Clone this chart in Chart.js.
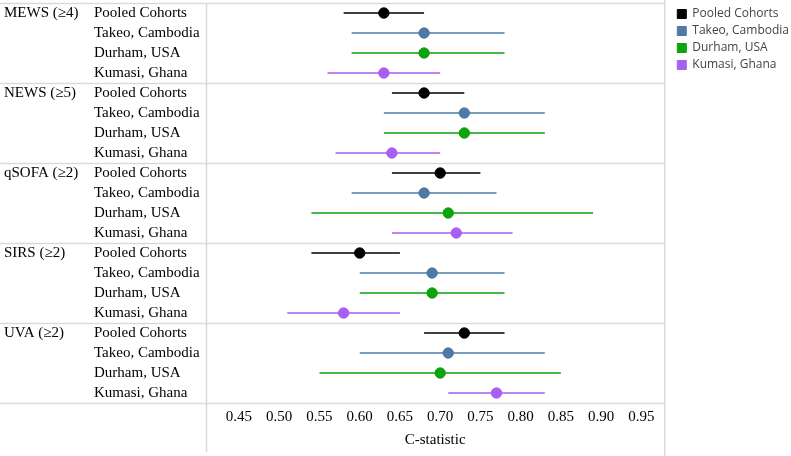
<!DOCTYPE html>
<html>
<head>
<meta charset="utf-8">
<script src="https://cdn.jsdelivr.net/npm/chart.js@4/dist/chart.umd.min.js"></script>
<style>
  html, body { margin: 0; padding: 0; background: #fff; }
  #wrap { width: 791px; height: 456px; }
</style>
</head>
<body>
<div id="wrap"><canvas id="forest"></canvas></div>
<script>
// Scores (groups) and cohorts (rows inside each group)
const groups = ['MEWS (\u22654)', 'NEWS (\u22655)', 'qSOFA (\u22652)', 'SIRS (\u22652)', 'UVA (\u22652)'];
const cohorts = ['Pooled Cohorts', 'Takeo, Cambodia', 'Durham, USA', 'Kumasi, Ghana'];
const cohortColours = ['#000000', '#4f7aa6', '#0ca30c', '#a95ff2'];

// C-statistic estimate and 95% CI, one value per group (MEWS, NEWS, qSOFA, SIRS, UVA)
const pooledEst  = [0.63, 0.68, 0.70, 0.60, 0.73];
const pooledLow  = [0.58, 0.64, 0.64, 0.54, 0.68];
const pooledHigh = [0.68, 0.73, 0.75, 0.65, 0.78];

const takeoEst  = [0.68, 0.73, 0.68, 0.69, 0.71];
const takeoLow  = [0.59, 0.63, 0.59, 0.60, 0.60];
const takeoHigh = [0.78, 0.83, 0.77, 0.78, 0.83];

const durhamEst  = [0.68, 0.73, 0.71, 0.69, 0.70];
const durhamLow  = [0.59, 0.63, 0.54, 0.60, 0.55];
const durhamHigh = [0.78, 0.83, 0.89, 0.78, 0.85];

const kumasiEst  = [0.63, 0.64, 0.72, 0.58, 0.77];
const kumasiLow  = [0.56, 0.57, 0.64, 0.51, 0.71];
const kumasiHigh = [0.70, 0.70, 0.79, 0.65, 0.83];

const xTicks = [0.45, 0.50, 0.55, 0.60, 0.65, 0.70, 0.75, 0.80, 0.85, 0.90, 0.95];

const estimates = [pooledEst, takeoEst, durhamEst, kumasiEst];
const lows = [pooledLow, takeoLow, durhamLow, kumasiLow];
const highs = [pooledHigh, takeoHigh, durhamHigh, kumasiHigh];

const rowCount = groups.length * cohorts.length;
const serif = '"Liberation Serif", "Times New Roman", serif';

// Build datasets: one CI line dataset and one point dataset per cohort
let datasets = [];
cohorts.forEach((name, c) => {
    let ciPoints = [];
    let dots = [];
    groups.forEach((g, gi) => {
        const row = gi * cohorts.length + c;
        ciPoints.push({ x: lows[c][gi], y: row });
        ciPoints.push({ x: highs[c][gi], y: row });
        ciPoints.push({ x: null, y: null });
        dots.push({ x: estimates[c][gi], y: row });
    });
    datasets.push({
        type: 'line',
        label: name + ' CI',
        data: ciPoints,
        borderColor: cohortColours[c],
        borderWidth: 1.6,
        pointRadius: 0,
        spanGaps: false,
        order: 2
    });
    datasets.push({
        type: 'scatter',
        label: name,
        data: dots,
        backgroundColor: cohortColours[c],
        borderColor: cohortColours[c],
        pointRadius: 5.2,
        pointHoverRadius: 5.2,
        order: 1
    });
});

// Light grey separators between score groups, plus frame lines
const frameLines = {
    id: 'frameLines',
    afterLayout(chart) {
        // leave a small gap between the plot frame and the legend
        chart.legend.left += 8;
        chart.legend.right += 8;
    },
    beforeDatasetsDraw(chart) {
        const { ctx, chartArea, scales } = chart;
        const y = scales.y;
        ctx.save();
        ctx.strokeStyle = '#dadada';
        ctx.lineWidth = 1.5;
        for (let b = -0.5; b <= rowCount; b += cohorts.length) {
            const py = Math.round(y.getPixelForValue(b)) + 0.5;
            ctx.beginPath();
            ctx.moveTo(0, py);
            ctx.lineTo(chartArea.right, py);
            ctx.stroke();
        }
        ctx.beginPath();
        ctx.moveTo(chartArea.left + 0.5, chartArea.top);
        ctx.lineTo(chartArea.left + 0.5, chart.height - 4);
        ctx.moveTo(chartArea.right + 0.5, 0);
        ctx.lineTo(chartArea.right + 0.5, chart.height);
        ctx.stroke();
        ctx.restore();
    }
};

function rowAxis(weight, width, tickValues, labelFn) {
    return {
        type: 'linear',
        position: 'left',
        reverse: true,
        min: -0.5,
        max: rowCount - 0.5,
        weight: weight,
        grid: { display: false, drawTicks: false },
        border: { display: false },
        afterBuildTicks: (scale) => {
            scale.ticks = tickValues.map(v => ({ value: v }));
        },
        afterFit: (scale) => {
            scale.width = width;
            scale.paddingTop = 0;
            scale.paddingBottom = 0;
        },
        ticks: {
            autoSkip: false,
            crossAlign: 'far',
            padding: 0,
            color: '#000',
            font: { family: serif, size: 15 },
            callback: labelFn
        }
    };
}

const rowTicks = [...Array(rowCount).keys()];
const groupTicks = groups.map((g, i) => i * cohorts.length);

const config = {
    data: { datasets: datasets },
    options: {
        responsive: false,
        animation: false,
        layout: { autoPadding: false, padding: { left: 4, top: 3, bottom: 2, right: 0 } },
        scales: {
            x: {
                type: 'linear',
                min: 0.409,
                max: 0.9785,
                grid: { display: false, drawTicks: false },
                border: { display: false },
                afterBuildTicks: (scale) => {
                    scale.ticks = xTicks.map(v => ({ value: v }));
                },
                ticks: {
                    autoSkip: false,
                    maxRotation: 0,
                    padding: 5,
                    color: '#000',
                    font: { family: serif, size: 15 },
                    callback: (v) => v.toFixed(2)
                },
                title: {
                    display: true,
                    text: 'C-statistic',
                    color: '#000',
                    padding: { top: 0, bottom: 5 },
                    font: { family: serif, size: 15 }
                }
            },
            y: rowAxis(0, 112, rowTicks, (v) => cohorts[v % cohorts.length]),
            yGroup: rowAxis(1, 90, groupTicks, (v) => groups[v / cohorts.length])
        },
        plugins: {
            legend: {
                position: 'right',
                align: 'start',
                labels: {
                    boxWidth: 9,
                    boxHeight: 9,
                    padding: 5,
                    color: '#444',
                    font: { family: '"Open Sans", "Noto Sans", sans-serif', size: 12 },
                    filter: (item) => !item.text.endsWith(' CI')
                }
            },
            tooltip: { enabled: false }
        }
    },
    plugins: [frameLines]
};

const canvas = document.getElementById('forest');
canvas.width = 791;
canvas.height = 456;
const chart = new Chart(canvas, config);
</script>
</body>
</html>
